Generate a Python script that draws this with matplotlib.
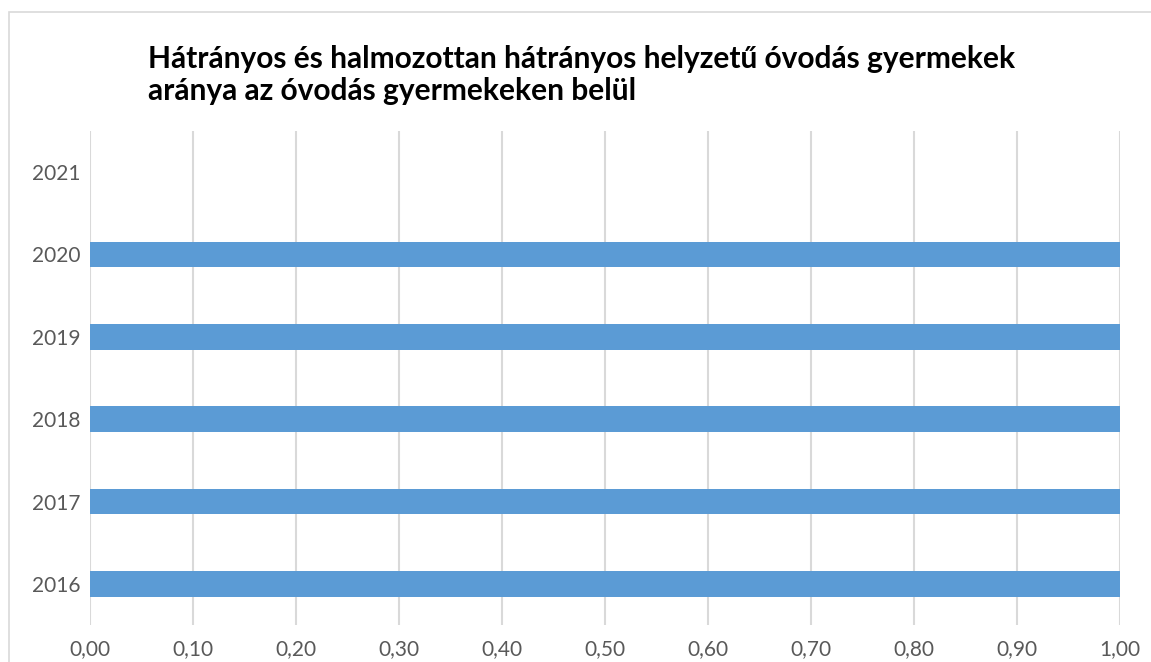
import matplotlib
matplotlib.use("Agg")
import matplotlib.pyplot as plt
from matplotlib.patches import Rectangle
import numpy as np

years = ["2016", "2017", "2018", "2019", "2020", "2021"]
values = [1.00, 1.00, 1.00, 1.00, 1.00, np.nan]
xticks = [0.0, 0.1, 0.2, 0.3, 0.4, 0.5, 0.6, 0.7, 0.8, 0.9, 1.0]
title_lines = ["Hátrányos és halmozottan hátrányos helyzetű óvodás gyermekek",
               "aránya az óvodás gyermekeken belül"]

W, H = 1151, 662
fig = plt.figure(figsize=(W / 100, H / 100), dpi=100)
plt.rcParams['font.family'] = ['Lato', 'DejaVu Sans']

# chart frame
fig.patches.append(Rectangle((9 / W, -0.1), 1.2, 1 - 12 / H + 0.1, transform=fig.transFigure,
                             fill=False, edgecolor="#D9D9D9", linewidth=1.2))

ax = fig.add_axes([90 / W, 1 - 625 / H, (1120 - 90) / W, (625 - 131) / H])
y = np.arange(len(years))
ax.barh(y, values, height=0.31, color="#5B9BD5", zorder=3)
ax.set_xlim(0, 1.0)
ax.set_ylim(-0.5, len(years) - 0.5)
ax.set_xticks(xticks)
ax.set_xticklabels([f"{v:.2f}".replace(".", ",") for v in xticks])
ax.set_yticks(y)
ax.set_yticklabels(years)
ax.grid(axis="x", color="#D9D9D9", linewidth=1.5, zorder=0)
for s in ax.spines.values():
    s.set_visible(False)
ax.tick_params(axis="both", length=0, labelsize=15, labelcolor="#595959")
ax.tick_params(axis="x", pad=10)
ax.tick_params(axis="y", pad=7)

for line, base in zip(title_lines, [68, 100]):
    fig.text(148 / W, 1 - base / H, line, ha="left", va="baseline", fontsize=21.5,
             fontweight="bold", color="#000000")

fig.savefig("out.png", dpi=100)
